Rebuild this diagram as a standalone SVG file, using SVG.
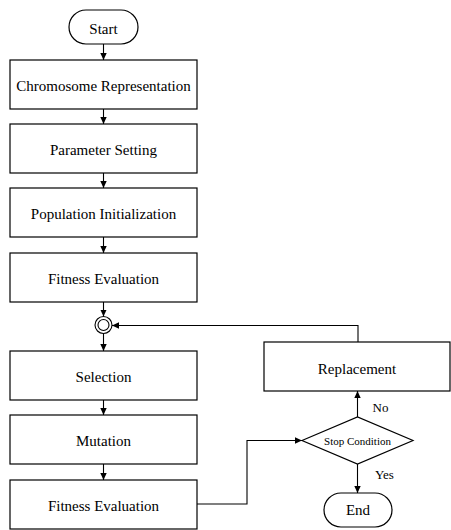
<svg xmlns="http://www.w3.org/2000/svg" width="451" height="530" viewBox="0 0 451 530">
<defs>
<marker id="a" markerWidth="8" markerHeight="8" refX="7" refY="4" orient="auto" markerUnits="userSpaceOnUse">
<path d="M0,0.8 L7,4 L0,7.2 Z" fill="#000"/>
</marker>
</defs>
<g fill="#fff" stroke="#000" stroke-width="1.2">
<g id="start"><rect x="69" y="10" width="69" height="34" rx="17"/><text stroke="none" fill="#000" text-anchor="middle" font-family="Liberation Serif" font-size="15" x="103.5" y="34">Start</text></g>
<g id="chromosome"><rect x="10" y="60" width="187" height="49"/><text stroke="none" fill="#000" text-anchor="middle" font-family="Liberation Serif" font-size="15" x="103.5" y="91">Chromosome Representation</text></g>
<g id="parameter"><rect x="10" y="124" width="187" height="49"/><text stroke="none" fill="#000" text-anchor="middle" font-family="Liberation Serif" font-size="15" x="103.5" y="155">Parameter Setting</text></g>
<g id="population"><rect x="10" y="188" width="187" height="49"/><text stroke="none" fill="#000" text-anchor="middle" font-family="Liberation Serif" font-size="15" x="103.5" y="219">Population Initialization</text></g>
<g id="fitness1"><rect x="10" y="253" width="187" height="49"/><text stroke="none" fill="#000" text-anchor="middle" font-family="Liberation Serif" font-size="15" x="103.5" y="284">Fitness Evaluation</text></g>
<g id="junction" stroke-width="1.1"><circle cx="103.5" cy="325" r="8.5"/><circle cx="103.5" cy="325" r="5.5" fill="none"/></g>
<g id="selection"><rect x="10" y="351" width="187" height="49"/><text stroke="none" fill="#000" text-anchor="middle" font-family="Liberation Serif" font-size="15" x="103.5" y="382">Selection</text></g>
<g id="mutation"><rect x="10" y="415" width="187" height="49"/><text stroke="none" fill="#000" text-anchor="middle" font-family="Liberation Serif" font-size="15" x="103.5" y="446">Mutation</text></g>
<g id="fitness2"><rect x="10" y="480" width="187" height="49"/><text stroke="none" fill="#000" text-anchor="middle" font-family="Liberation Serif" font-size="15" x="103.5" y="511">Fitness Evaluation</text></g>
<g id="replacement"><rect x="264" y="342" width="186" height="49"/><text stroke="none" fill="#000" text-anchor="middle" font-family="Liberation Serif" font-size="15" x="357" y="374">Replacement</text></g>
<g id="stop"><polygon points="302,440.5 357.5,417 413,440.5 357.5,464"/><text stroke="none" fill="#000" text-anchor="middle" font-family="Liberation Serif" font-size="11" x="357.5" y="445">Stop Condition</text></g>
<g id="end"><rect x="324" y="493" width="68" height="34" rx="17"/><text stroke="none" fill="#000" text-anchor="middle" font-family="Liberation Serif" font-size="15" x="358" y="515">End</text></g>
</g>
<g id="connectors" fill="none" stroke="#000" stroke-width="1.1">
<line x1="103.5" y1="44" x2="103.5" y2="60" marker-end="url(#a)"/>
<line x1="103.5" y1="109" x2="103.5" y2="124" marker-end="url(#a)"/>
<line x1="103.5" y1="173" x2="103.5" y2="188" marker-end="url(#a)"/>
<line x1="103.5" y1="237" x2="103.5" y2="253" marker-end="url(#a)"/>
<line x1="103.5" y1="302" x2="103.5" y2="316.5" marker-end="url(#a)"/>
<line x1="103.5" y1="333.5" x2="103.5" y2="351" marker-end="url(#a)"/>
<line x1="103.5" y1="400" x2="103.5" y2="415" marker-end="url(#a)"/>
<line x1="103.5" y1="464" x2="103.5" y2="480" marker-end="url(#a)"/>
<polyline points="197,504 247,504 247,440.5 302,440.5" marker-end="url(#a)"/>
<line x1="357.5" y1="417" x2="357.5" y2="391" marker-end="url(#a)"/>
<line x1="357.5" y1="464" x2="357.5" y2="493" marker-end="url(#a)"/>
<polyline points="358,342 358,325.5 112,325.5" marker-end="url(#a)"/>
<text stroke="none" fill="#000" font-family="Liberation Serif" font-size="13" x="372.5" y="412">No</text>
<text stroke="none" fill="#000" font-family="Liberation Serif" font-size="13" x="375" y="479">Yes</text>
</g>
</svg>
